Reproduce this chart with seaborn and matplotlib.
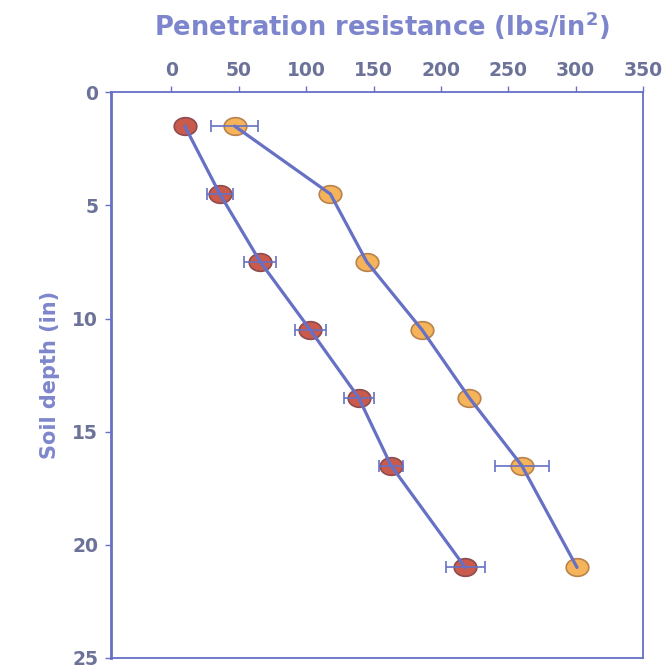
import numpy as np
import pandas as pd
import matplotlib
matplotlib.use("Agg")
import matplotlib.pyplot as plt
from matplotlib.path import Path
import seaborn as sns

# soil depth (in) and penetration resistance (lbs/in2)
depth = [1.5, 4.5, 7.5, 10.5, 13.5, 16.5, 21]
resist_a = [10, 36, 66, 103, 139, 163, 218]      # dark red points
err_a = [np.nan, 9.5, 12, 11.5, 11, 9, 14.5]
resist_b = [47, 118, 145, 186, 221, 260, 301]    # orange points
err_b = [17.5, np.nan, np.nan, np.nan, np.nan, 20, np.nan]

x_ticks = [0, 50, 100, 150, 200, 250, 300, 350]
y_ticks = [0, 5, 10, 15, 20, 25]

df = pd.concat([
    pd.DataFrame({"depth": depth, "resist": resist_a, "err": err_a, "grp": "a"}),
    pd.DataFrame({"depth": depth, "resist": resist_b, "err": err_b, "grp": "b"}),
])

sns.set_style("white")
plt.rcParams["font.family"] = ["DejaVu Sans"]

line_col = "#6670c4"
text_col = "#7d86cc"
tick_col = "#6d7299"
fills = {"a": "#c95a4c", "b": "#f5b35a"}
edges = {"a": "#8f4c4f", "b": "#b9824e"}

# slightly flattened ellipse marker
t = np.linspace(0, 2 * np.pi, 60)
ellipse = Path(np.column_stack([1.28 * np.cos(t), np.sin(t)]), closed=True)

fig = plt.figure(figsize=(6.68, 6.68), dpi=100)
ax = fig.add_axes([0.1657, 0.015, 0.797, 0.847])

for g in ["a", "b"]:
    sub = df[df.grp == g]
    sns.scatterplot(data=sub, x="resist", y="depth", ax=ax, marker=ellipse, s=265,
                    color=fills[g], edgecolor=edges[g], linewidth=1.2, zorder=2, legend=False)
    sns.lineplot(data=sub, x="resist", y="depth", ax=ax, sort=False, estimator=None,
                 color=line_col, linewidth=2.3, zorder=3, legend=False)
    ok = sub.dropna()
    ax.errorbar(ok.resist, ok.depth, xerr=ok.err, fmt="none", ecolor=line_col,
                elinewidth=1.2, capsize=4, capthick=1.2, zorder=4)

ax.set_xlim(-45, 350)
ax.set_ylim(25, 0)
ax.set_xticks(x_ticks)
ax.set_yticks(y_ticks)
ax.xaxis.tick_top()
ax.xaxis.set_label_position("top")

ax.set_xlabel("Penetration resistance (lbs/in$^\\mathbf{2}$)", fontsize=18.5, fontweight="bold",
              color=text_col, va="bottom")
ax.xaxis.set_label_coords(0.51, 1.088)
ax.set_ylabel("Soil depth (in)", fontsize=15, fontweight="bold", color=text_col, labelpad=9)

ax.tick_params(axis="both", direction="out", length=4, width=1, color=line_col,
               labelsize=13.5, labelcolor=tick_col, pad=5)
ax.tick_params(axis="x", top=True, bottom=False)
ax.tick_params(axis="y", left=True)
for lab in ax.get_xticklabels() + ax.get_yticklabels():
    lab.set_fontweight("bold")

for side in ["left", "right", "top", "bottom"]:
    ax.spines[side].set_visible(True)
    ax.spines[side].set_color(line_col)
    ax.spines[side].set_linewidth(1.3)
ax.spines["left"].set_linewidth(2)

fig.savefig("out.png", dpi=100)
